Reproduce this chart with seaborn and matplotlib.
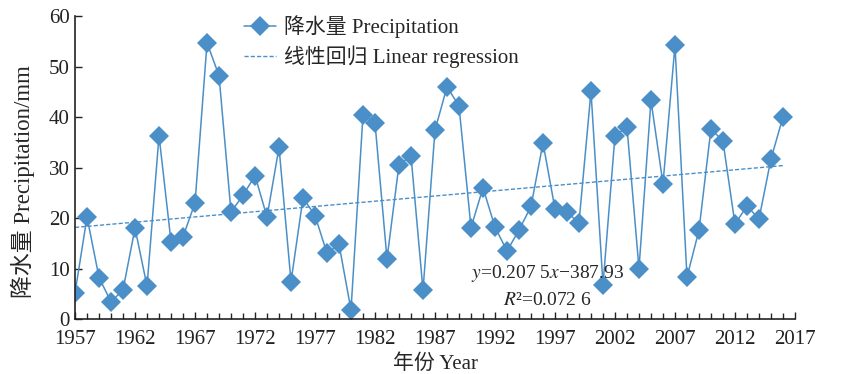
import numpy as np
import pandas as pd
import matplotlib
matplotlib.use("Agg")
import matplotlib.pyplot as plt
from matplotlib.ticker import MultipleLocator
import seaborn as sns

# yearly precipitation
years = list(range(1957, 2017))
precip = [5.2, 20.2, 8.2, 3.4, 5.8, 18.0, 6.5, 36.3, 15.3, 16.3,
          23.0, 54.7, 48.2, 21.2, 24.5, 28.4, 20.2, 34.0, 7.4, 24.0,
          20.5, 13.0, 14.8, 1.8, 40.5, 38.8, 11.9, 30.6, 32.3, 5.7,
          37.4, 46.0, 42.2, 18.1, 26.0, 18.2, 13.5, 17.6, 22.3, 34.9,
          21.8, 21.1, 19.1, 45.1, 6.8, 36.3, 38.0, 10.0, 43.3, 26.8,
          54.2, 8.3, 17.6, 37.7, 35.2, 18.8, 22.4, 19.8, 31.7, 40.0]
xticks = list(range(1957, 2018, 5))

# regression from the figure annotation
slope = 0.2075
intercept = -387.93
eq_text = "$y$=0.207 5$x$\u2212387.93"
r2_text = "$R$\u00b2=0.072 6"

blue = "#4a8fc8"

sns.set_style("ticks")
plt.rcParams['font.family'] = ['Liberation Serif', 'Noto Sans CJK SC']
plt.rcParams['mathtext.fontset'] = 'stix'
plt.rcParams['font.size'] = 15

df = pd.DataFrame({"year": years, "precip": precip})
df["fit"] = slope * df["year"] + intercept

fig = plt.figure(figsize=(8.45, 3.74), dpi=100)
ax = fig.add_axes([0.0888, 0.147, 0.852, 0.81])

sns.lineplot(data=df, x="year", y="precip", ax=ax, color=blue, lw=1.1,
             marker="D", markersize=10.5, markeredgewidth=0,
             label="降水量 Precipitation")
sns.lineplot(data=df, x="year", y="fit", ax=ax, color=blue, lw=1.0,
             linestyle=(0, (3, 1.5)), label="线性回归 Linear regression")

ax.set_xlim(1957, 2017)
ax.set_ylim(0, 60)
ax.set_xticks(xticks)
ax.xaxis.set_minor_locator(MultipleLocator(1))
ax.yaxis.set_major_locator(MultipleLocator(10))
ax.tick_params(axis="both", which="major", direction="in", length=5,
               width=1, labelsize=15, colors="#222222")
ax.tick_params(axis="x", which="minor", direction="in", length=4, width=1)
ax.tick_params(axis="x", pad=8)
ax.tick_params(axis="y", pad=4)
for s in ["left", "bottom"]:
    ax.spines[s].set_linewidth(1.2)
    ax.spines[s].set_color("#222222")
sns.despine(ax=ax)

ax.set_xlabel("年份 Year", fontsize=15, labelpad=4)
ax.set_ylabel("降水量 Precipitation/mm", fontsize=16.5)
ax.yaxis.set_label_coords(-0.056, 0.455)

ax.text(1996.4, 9.1, eq_text, ha="center", va="center", fontsize=14)
ax.text(1996.4, 3.6, r2_text, ha="center", va="center", fontsize=14)

ax.legend(loc="upper left", bbox_to_anchor=(0.215, 1.05), frameon=False,
          handlelength=1.5, handletextpad=0.4, labelspacing=0.35,
          fontsize=15, borderpad=0.2)

fig.savefig("out.png", dpi=100)
